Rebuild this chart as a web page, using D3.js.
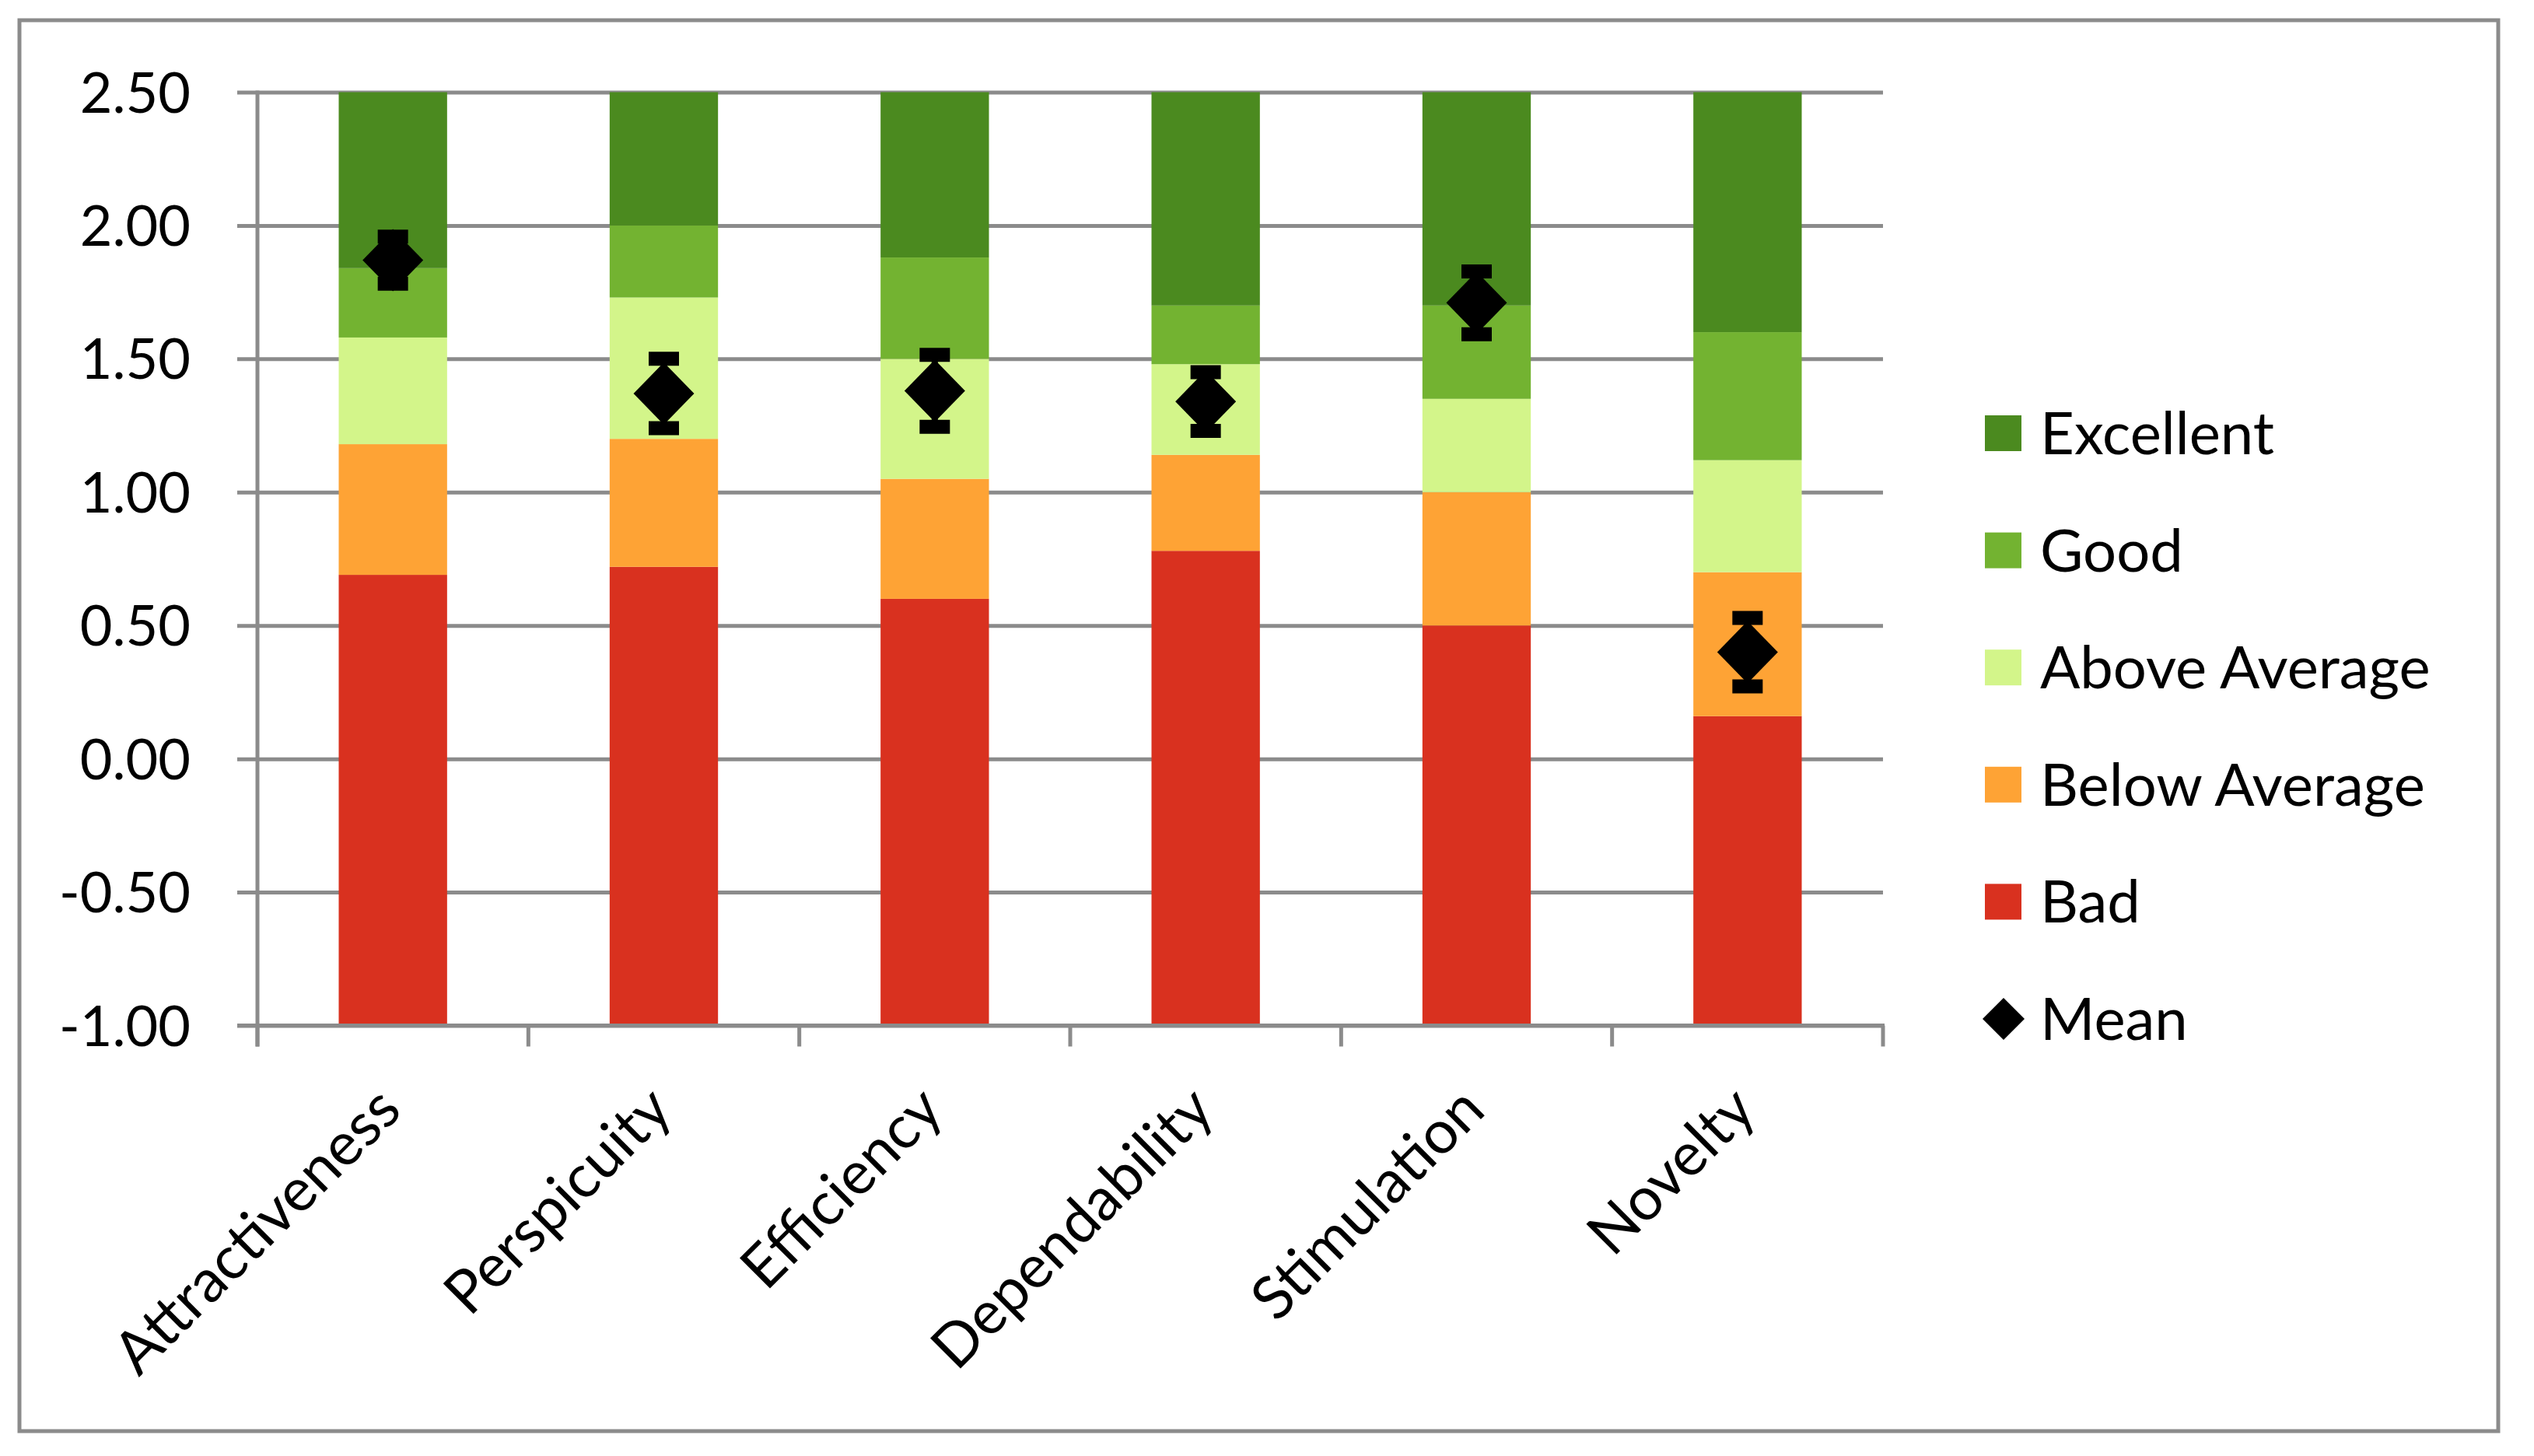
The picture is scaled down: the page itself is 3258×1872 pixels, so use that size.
<!DOCTYPE html>
<html>
<head>
<meta charset="utf-8">
<script src="https://cdn.jsdelivr.net/npm/d3@7"></script>
<style>
  html, body { margin: 0; padding: 0; background: #ffffff; }
  svg { display: block; }
  text { font-family: Lato, "Open Sans", sans-serif; fill: #000; }
</style>
</head>
<body>
<svg id="chart" width="3258" height="1872"></svg>
<script>
// ---- data ----
const categories = ["Attractiveness", "Perspicuity", "Efficiency", "Dependability", "Stimulation", "Novelty"];
const seriesNames = ["Bad", "Below Average", "Above Average", "Good", "Excellent"];
// upper bounds of each benchmark band (bars start at -1.00, top at 2.50)
const badUpper        = [0.69, 0.72, 0.60, 0.78, 0.50, 0.16];
const belowAvgUpper   = [1.18, 1.20, 1.05, 1.14, 1.00, 0.70];
const aboveAvgUpper   = [1.58, 1.73, 1.50, 1.48, 1.35, 1.12];
const goodUpper       = [1.84, 2.00, 1.88, 1.70, 1.70, 1.60];
const excellentUpper  = [2.50, 2.50, 2.50, 2.50, 2.50, 2.50];
const meanValues      = [1.87, 1.37, 1.38, 1.34, 1.71, 0.40];
const ciHalfWidth     = [0.088, 0.13, 0.135, 0.11, 0.118, 0.128];
const yTickValues     = [-1.00, -0.50, 0.00, 0.50, 1.00, 1.50, 2.00, 2.50];
const yTickLabels     = ["-1.00", "-0.50", "0.00", "0.50", "1.00", "1.50", "2.00", "2.50"];
const legendItems     = ["Excellent", "Good", "Above Average", "Below Average", "Bad", "Mean"];
const colors = {
  "Bad": "#D9311F",
  "Below Average": "#FEA335",
  "Above Average": "#D3F58A",
  "Good": "#73B331",
  "Excellent": "#4B8A1F"
};
const bandUppers = [badUpper, belowAvgUpper, aboveAvgUpper, goodUpper, excellentUpper];

// ---- layout ----
const svg = d3.select("#chart");
const plotLeft = 331, plotRight = 2421, plotTop = 118.5, plotBottom = 1318.5;
const gridColor = "#8B8B8B";

const x = d3.scaleBand().domain(categories).range([plotLeft, plotRight]).paddingInner(0.6).paddingOuter(0.3);
const y = d3.scaleLinear().domain([-1, 2.5]).range([plotBottom, plotTop]);

// outer border
svg.append("rect").attr("x", 25).attr("y", 26).attr("width", 3187).attr("height", 1814)
  .attr("fill", "#fff").attr("stroke", gridColor).attr("stroke-width", 5);

// gridlines with outward ticks
const yAxis = d3.axisLeft(y).tickValues(yTickValues).tickSize(-(plotRight - plotLeft)).tickFormat("");
const gy = svg.append("g").attr("transform", `translate(${plotLeft},0)`).call(yAxis);
gy.select(".domain").remove();
gy.selectAll(".tick line").attr("stroke", gridColor).attr("stroke-width", 5).attr("x1", -26);

// y tick labels
svg.append("g").selectAll("text").data(yTickValues).join("text")
  .attr("x", 245).attr("y", d => y(d) + 26)
  .attr("text-anchor", "end")
  .attr("font-size", 72)
  .text((d, i) => yTickLabels[i]);

// stacked benchmark bars
const stackRows = categories.map((c, i) => {
  const row = [];
  let lower = -1;
  bandUppers.forEach((arr, k) => {
    row.push({ cat: c, name: seriesNames[k], lo: lower, hi: arr[i] });
    lower = arr[i];
  });
  return row;
}).flat();

svg.append("g").selectAll("rect").data(stackRows).join("rect")
  .attr("x", d => x(d.cat))
  .attr("width", x.bandwidth())
  .attr("y", d => y(d.hi))
  .attr("height", d => y(d.lo) - y(d.hi))
  .attr("fill", d => colors[d.name]);

// y axis line
svg.append("line").attr("x1", plotLeft).attr("x2", plotLeft).attr("y1", plotTop - 2).attr("y2", plotBottom + 27)
  .attr("stroke", gridColor).attr("stroke-width", 5);
// x axis line
svg.append("line").attr("x1", plotLeft - 26).attr("x2", plotRight + 2).attr("y1", plotBottom).attr("y2", plotBottom)
  .attr("stroke", gridColor).attr("stroke-width", 5);
// x ticks at category boundaries
const step = x.step();
const boundaries = d3.range(categories.length + 1).map(i => plotLeft + i * step);
svg.append("g").selectAll("line").data(boundaries).join("line")
  .attr("x1", d => d).attr("x2", d => d)
  .attr("y1", plotBottom).attr("y2", plotBottom + 27)
  .attr("stroke", gridColor).attr("stroke-width", 5);

// category labels rotated
svg.append("g").selectAll("text").data(categories).join("text")
  .attr("text-anchor", "end")
  .attr("font-size", 77)
  .attr("transform", d => `translate(${x(d) + x.bandwidth() / 2 + 14},${plotBottom + 112}) rotate(-45)`)
  .text(d => d);

// error bars
const means = categories.map((c, i) => ({ cat: c, m: meanValues[i], lo: meanValues[i] - ciHalfWidth[i], hi: meanValues[i] + ciHalfWidth[i] }));
const eb = svg.append("g");
eb.selectAll("line.stem").data(means).join("line").attr("class", "stem")
  .attr("x1", d => x(d.cat) + x.bandwidth() / 2).attr("x2", d => x(d.cat) + x.bandwidth() / 2)
  .attr("y1", d => y(d.hi)).attr("y2", d => y(d.lo))
  .attr("stroke", "#000").attr("stroke-width", 8);
["hi", "lo"].forEach(k => {
  eb.selectAll("line.cap" + k).data(means).join("line").attr("class", "cap" + k)
    .attr("x1", d => x(d.cat) + x.bandwidth() / 2 - 19.5).attr("x2", d => x(d.cat) + x.bandwidth() / 2 + 19.5)
    .attr("y1", d => y(d[k])).attr("y2", d => y(d[k]))
    .attr("stroke", "#000").attr("stroke-width", 18);
});
// mean diamonds
const diamond = (w, h) => `M0,${-h} L${w},0 L0,${h} L${-w},0 Z`;
svg.append("g").selectAll("path").data(means).join("path")
  .attr("d", diamond(39, 40))
  .attr("transform", d => `translate(${x(d.cat) + x.bandwidth() / 2},${y(d.m)})`)
  .attr("fill", "#000");

// legend
const legendY = d3.scalePoint().domain(legendItems).range([557, 1310]);
const lg = svg.append("g");
legendItems.forEach(name => {
  const cy = legendY(name);
  if (name === "Mean") {
    lg.append("path").attr("d", diamond(27, 27)).attr("transform", `translate(2576,${cy})`).attr("fill", "#000");
  } else {
    lg.append("rect").attr("x", 2552).attr("y", cy - 23).attr("width", 47).attr("height", 46).attr("fill", colors[name]);
  }
  lg.append("text").attr("x", 2623).attr("y", cy + 27).attr("font-size", 76).text(name);
});
</script>
</body>
</html>
